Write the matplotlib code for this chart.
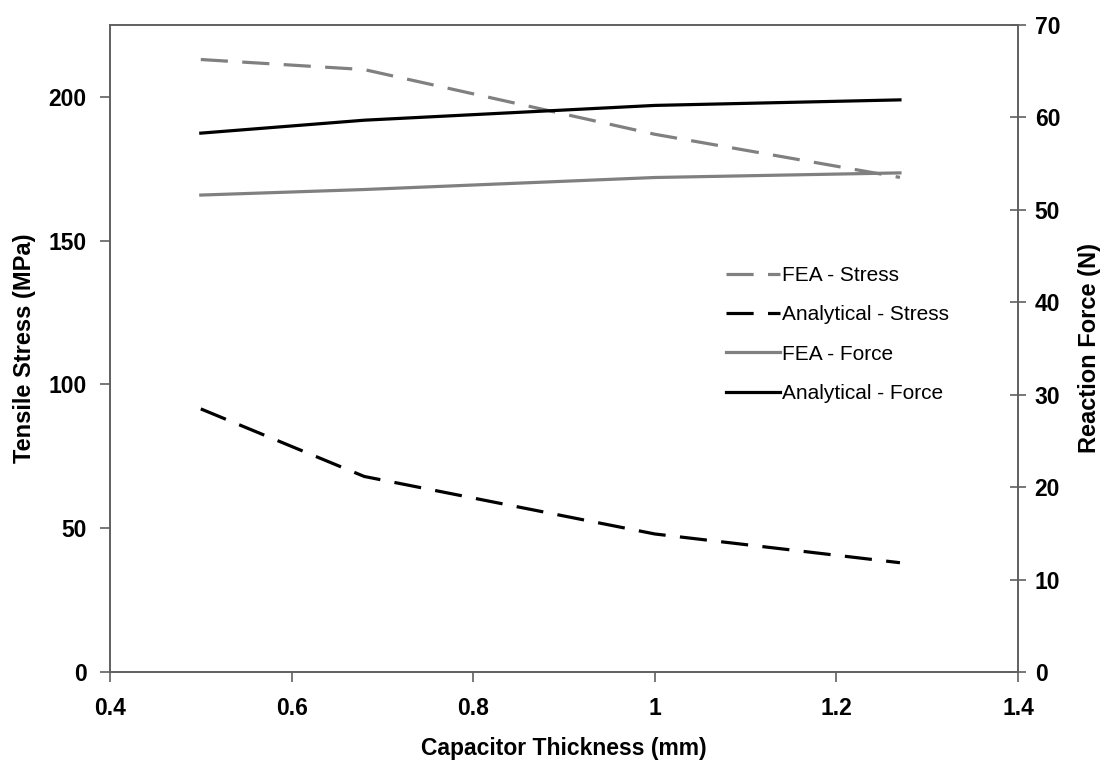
import matplotlib
matplotlib.use("Agg")
import matplotlib.pyplot as plt

# --- data ---
thickness = [0.5, 0.68, 1.0, 1.27]
fea_stress = [213, 209.5, 187, 172]
analytical_stress = [91.5, 68, 48, 38]
fea_force = [51.6, 52.2, 53.5, 54.0]
analytical_force = [58.3, 59.7, 61.3, 61.9]

x_ticks = [0.4, 0.6, 0.8, 1.0, 1.2, 1.4]
x_ticklabels = ["0.4", "0.6", "0.8", "1", "1.2", "1.4"]
left_ticks = [0, 50, 100, 150, 200]
right_ticks = [0, 10, 20, 30, 40, 50, 60, 70]

plt.rcParams['font.family'] = ['Liberation Sans', 'DejaVu Sans']

GRAY = '#808080'
SPINE = '#606060'
dash = (0, (8.5, 4.5))

fig = plt.figure(figsize=(11.01, 7.60), dpi=100)
ax = fig.add_axes([0.0999, 0.1158, 0.8247, 0.8513])
ax2 = ax.twinx()

l1, = ax.plot(thickness, fea_stress, color=GRAY, lw=2.3, linestyle=dash, label='FEA - Stress')
l2, = ax.plot(thickness, analytical_stress, color='black', lw=2.3, linestyle=dash, label='Analytical - Stress')
l3, = ax2.plot(thickness, fea_force, color=GRAY, lw=2.3, label='FEA - Force')
l4, = ax2.plot(thickness, analytical_force, color='black', lw=2.3, label='Analytical - Force')

ax.set_xlim(0.4, 1.4)
ax.set_ylim(0, 225)
ax2.set_ylim(0, 70)
ax.set_xticks(x_ticks)
ax.set_xticklabels(x_ticklabels)
ax.set_yticks(left_ticks)
ax2.set_yticks(right_ticks)

for a in (ax, ax2):
    for s in a.spines.values():
        s.set_color(SPINE)
        s.set_linewidth(1.2)
    for lab in a.get_xticklabels() + a.get_yticklabels():
        lab.set_fontweight('bold')
        lab.set_fontsize(16.5)

ax.tick_params(axis='x', direction='out', length=7, width=1.2, color=SPINE, pad=11)
ax.tick_params(axis='y', direction='out', length=7, width=1.2, color=SPINE, pad=10)
ax2.tick_params(axis='y', direction='inout', length=12, width=1.2, color=SPINE, pad=6)

ax.set_xlabel('Capacitor Thickness (mm)', fontsize=16.5, fontweight='bold', labelpad=12)
ax.set_ylabel('Tensile Stress (MPa)', fontsize=17, fontweight='bold', labelpad=9)
ax2.set_ylabel('Reaction Force (N)', fontsize=17, fontweight='bold', labelpad=13)

leg = ax2.legend(handles=[l1, l2, l3, l4], loc='upper left', bbox_to_anchor=(0.669, 0.64),
                 frameon=False, fontsize=15, handlelength=2.6, handletextpad=0.12,
                 labelspacing=0.97, borderaxespad=0)

fig.savefig('out.png', dpi=100)
